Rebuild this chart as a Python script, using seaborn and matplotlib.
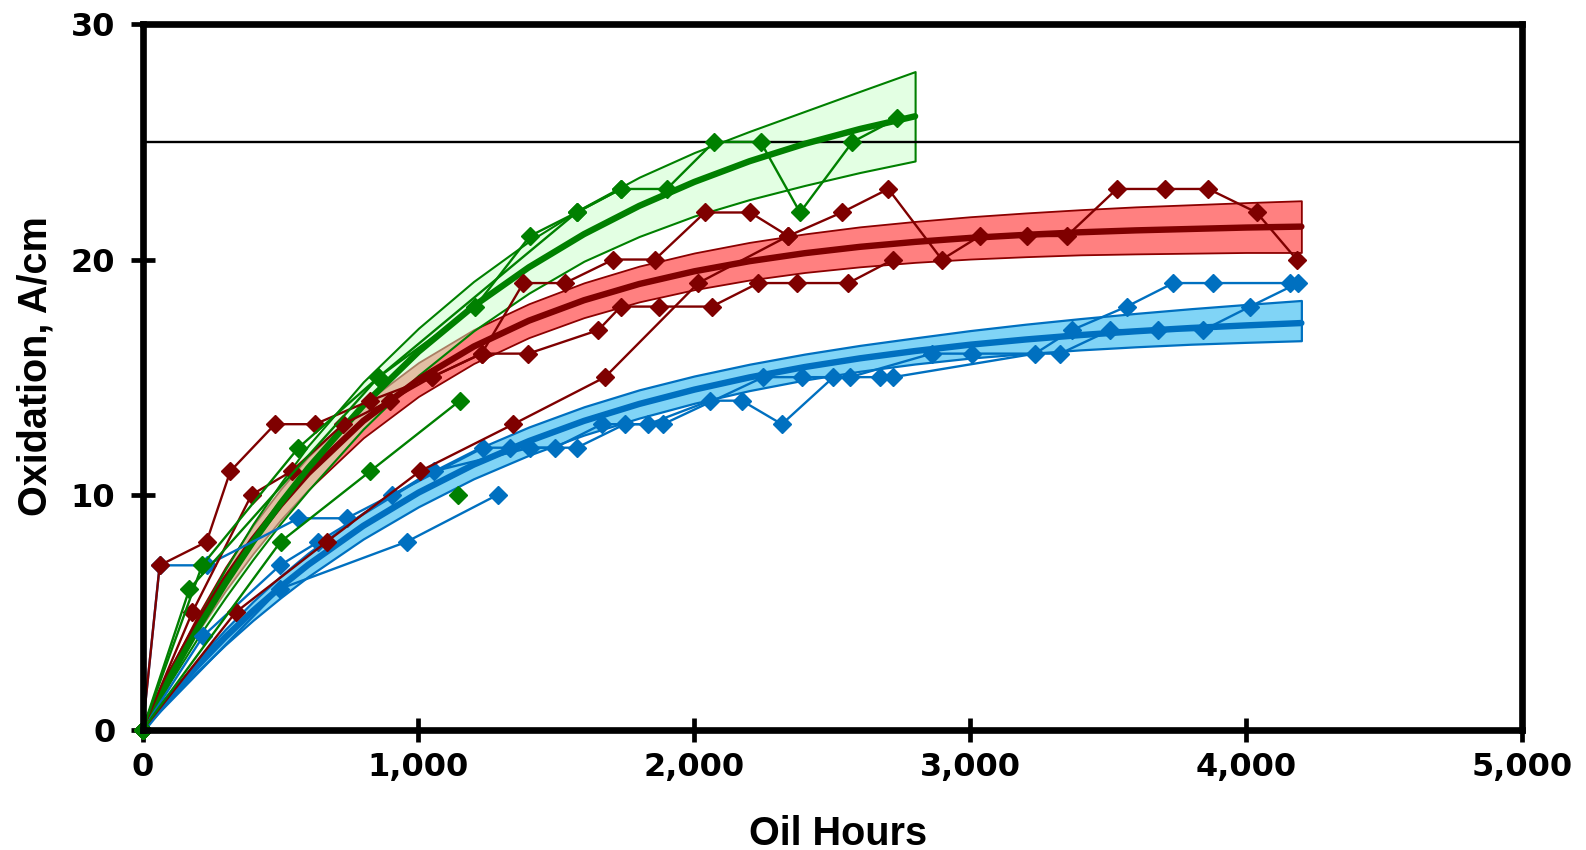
import matplotlib
matplotlib.use("Agg")
import matplotlib.pyplot as plt
import numpy as np
import pandas as pd
import seaborn as sns

# ---------------- data ----------------
# fitted curves and confidence bands
green_fit_x = [0, 100, 200, 300, 400, 500, 600, 800, 1000, 1200, 1400, 1600, 1800, 2000, 2200, 2400, 2600, 2800]
green_fit = [0, 2.25, 4.32, 6.23, 8.00, 9.63, 11.13, 13.80, 16.08, 18.02, 19.67, 21.08, 22.28, 23.30, 24.18, 24.92, 25.55, 26.09]
green_upper = [0, 2.45, 4.72, 6.83, 8.75, 10.48, 12.08, 14.80, 17.08, 19.07, 20.77, 22.23, 23.50, 24.55, 25.45, 26.30, 27.15, 27.99]
green_lower = [0, 2.05, 3.92, 5.63, 7.25, 8.78, 10.18, 12.80, 15.08, 16.97, 18.57, 19.93, 20.98, 21.85, 22.55, 23.15, 23.70, 24.19]

long_fit_x = [0, 100, 200, 300, 400, 500, 600, 800, 1000, 1200, 1400, 1600, 1800, 2000, 2200, 2400,
              2600, 2800, 3000, 3200, 3400, 3600, 3800, 4000, 4200]
red_fit = [0, 2.39, 4.52, 6.41, 8.09, 9.58, 10.91, 13.14, 14.90, 16.30, 17.40, 18.27, 18.96, 19.50, 19.93,
           20.27, 20.54, 20.75, 20.92, 21.05, 21.16, 21.24, 21.30, 21.36, 21.40]
red_upper = [0, 2.59, 4.87, 6.91, 8.69, 10.23, 11.61, 13.86, 15.62, 17.02, 18.12, 19.01, 19.72, 20.28, 20.73,
             21.09, 21.39, 21.62, 21.82, 21.98, 22.12, 22.24, 22.33, 22.42, 22.50]
red_lower = [0, 2.19, 4.17, 5.91, 7.49, 8.93, 10.21, 12.42, 14.18, 15.58, 16.68, 17.53, 18.20, 18.72, 19.13,
             19.45, 19.69, 19.88, 20.02, 20.12, 20.20, 20.24, 20.27, 20.30, 20.30]
blue_fit = [0, 1.43, 2.74, 3.95, 5.06, 6.08, 7.02, 8.68, 10.09, 11.28, 12.28, 13.14, 13.86, 14.47, 14.99,
            15.43, 15.80, 16.11, 16.38, 16.60, 16.79, 16.95, 17.09, 17.20, 17.30]
blue_upper = [0, 1.55, 2.98, 4.28, 5.46, 6.54, 7.52, 9.24, 10.69, 11.88, 12.88, 13.74, 14.46, 15.05, 15.55,
              15.98, 16.35, 16.67, 16.98, 17.25, 17.49, 17.71, 17.91, 18.09, 18.26]
blue_lower = [0, 1.31, 2.50, 3.62, 4.66, 5.62, 6.52, 8.12, 9.49, 10.68, 11.68, 12.54, 13.26, 13.89, 14.43,
              14.88, 15.25, 15.56, 15.81, 16.00, 16.16, 16.29, 16.40, 16.48, 16.55]

# measured series
g1_hours = [0, 170, 855, 1206, 1404, 1573, 1734, 1900, 2071, 2240, 2383, 2573, 2735]
g1_ox = [0, 6, 15, 18, 21, 22, 23, 23, 25, 25, 22, 25, 26]
g2_hours = [0, 216, 565, 855, 1573, 1734]
g2_ox = [0, 7, 12, 15, 22, 23]
g3_hours = [0, 500, 825, 1150]
g3_ox = [0, 8, 11, 14]
g4_hours = [1143]
g4_ox = [10]

r1_hours = [0, 62, 232, 318, 480, 625, 824, 1048, 1229, 1380, 1531, 1706, 1857, 2038, 2202, 2340]
r1_ox = [0, 7, 8, 11, 13, 13, 14, 15, 16, 19, 19, 20, 20, 22, 22, 21]
r2_hours = [0, 180, 395, 540, 727, 897, 1048, 1229, 1398, 1652, 1733, 1870, 2063, 2232, 2371, 2558, 2721]
r2_ox = [0, 5, 10, 11, 13, 14, 15, 16, 16, 17, 18, 18, 18, 19, 19, 19, 20]
r3_hours = [0, 337, 667, 1005, 1344, 1676, 2014, 2340, 2534, 2703, 2897, 3035, 3206, 3350, 3531, 3706,
            3863, 4038, 4183]
r3_ox = [0, 5, 8, 11, 13, 15, 19, 21, 22, 23, 20, 21, 21, 21, 23, 23, 23, 22, 20]

b1_hours = [0, 62, 232, 565, 740, 905, 1235, 1332, 1495, 1664, 1833, 2057, 2172, 2317, 2504, 2564, 2860,
            3005, 3326, 3507, 3682, 3845, 4014, 4188]
b1_ox = [0, 7, 7, 9, 9, 10, 12, 12, 12, 13, 13, 14, 14, 13, 15, 15, 16, 16, 16, 17, 17, 17, 18, 19]
b2_hours = [0, 220, 498, 637, 1055, 1404, 1574, 1748, 1887, 2250, 2389, 2673, 2721, 3235, 3368, 3567,
            3736, 3879, 4159]
b2_ox = [0, 4, 7, 8, 11, 12, 12, 13, 13, 15, 15, 15, 15, 16, 17, 18, 19, 19, 19]
b3_hours = [0, 498, 957, 1287]
b3_ox = [0, 6, 8, 10]

x_ticks = [0, 1000, 2000, 3000, 4000, 5000]
x_tick_labels = ["0", "1,000", "2,000", "3,000", "4,000", "5,000"]
y_ticks = [0, 10, 20, 30]
limit_line = 25

GREEN = "#008000"
RED = "#7F0000"
BLUE = "#0070C0"


def series_frame(pairs):
    rows = []
    for name, hrs, vals in pairs:
        for h, v in zip(hrs, vals):
            rows.append({"series": name, "hours": h, "ox": v})
    return pd.DataFrame(rows)


green_df = series_frame([("g1", g1_hours, g1_ox), ("g2", g2_hours, g2_ox),
                         ("g3", g3_hours, g3_ox), ("g4", g4_hours, g4_ox)])
red_df = series_frame([("r1", r1_hours, r1_ox), ("r2", r2_hours, r2_ox), ("r3", r3_hours, r3_ox)])
blue_df = series_frame([("b1", b1_hours, b1_ox), ("b2", b2_hours, b2_ox), ("b3", b3_hours, b3_ox)])

# ---------------- style ----------------
sns.set_theme(style="white")
plt.rcParams["font.family"] = ["Liberation Sans", "DejaVu Sans"]
plt.rcParams["font.weight"] = "bold"

fig = plt.figure(figsize=(15.86, 8.5), dpi=100)
ax = fig.add_axes([0.0899, 0.1412, 0.8698, 0.8302])

# bands
ax.fill_between(long_fit_x, red_lower, red_upper, facecolor="#FF8080", edgecolor="#8B0000",
                linewidth=1.3, zorder=1)
ax.fill_between(long_fit_x, blue_lower, blue_upper, facecolor="#80D4F6", edgecolor=BLUE,
                linewidth=1.6, zorder=1)
ax.fill_between(green_fit_x, green_lower, green_upper, facecolor=(200 / 255, 1.0, 200 / 255, 0.5),
                edgecolor=GREEN, linewidth=1.5, zorder=2)

ax.axhline(limit_line, color="black", linewidth=1.7, zorder=2.5)

# fitted curves
sns.lineplot(x=long_fit_x, y=red_fit, color=RED, linewidth=4.6, ax=ax, zorder=3)
sns.lineplot(x=long_fit_x, y=blue_fit, color=BLUE, linewidth=4.6, ax=ax, zorder=3)
sns.lineplot(x=green_fit_x, y=green_fit, color=GREEN, linewidth=4.6, ax=ax, zorder=3)

# measured series
for df, col, z in [(blue_df, BLUE, 4), (red_df, RED, 5), (green_df, GREEN, 6)]:
    sns.lineplot(data=df, x="hours", y="ox", units="series", estimator=None, sort=False,
                 color=col, linewidth=1.7, marker="D", markersize=9.5, markeredgecolor=col,
                 markeredgewidth=1, ax=ax, zorder=z, clip_on=False, legend=False)

# axes
ax.set_xlim(0, 5000)
ax.set_ylim(0, 30)
ax.set_xticks(x_ticks)
ax.set_xticklabels(x_tick_labels)
ax.set_yticks(y_ticks)
for sp in ax.spines.values():
    sp.set_visible(True)
    sp.set_color("black")
    sp.set_linewidth(4.8)
    sp.set_zorder(10)
ax.tick_params(axis="both", which="major", direction="inout", length=17, width=3.4,
               color="black", labelcolor="black", labelsize=23, bottom=True, left=True)
ax.tick_params(axis="x", pad=7)
ax.tick_params(axis="y", pad=11)
for lbl in ax.get_xticklabels() + ax.get_yticklabels():
    lbl.set_fontweight("bold")
    lbl.set_family(["DejaVu Sans"])

ax.set_xlabel("Oil Hours", fontsize=28.5, fontweight="bold", color="black")
ax.set_ylabel("Oxidation, A/cm", fontsize=28.5, fontweight="bold", color="black")
ax.xaxis.set_label_coords(0.504, -0.12)
ax.yaxis.set_label_coords(-0.064, 0.515)
ax.grid(False)

fig.savefig("out.png", dpi=100)
